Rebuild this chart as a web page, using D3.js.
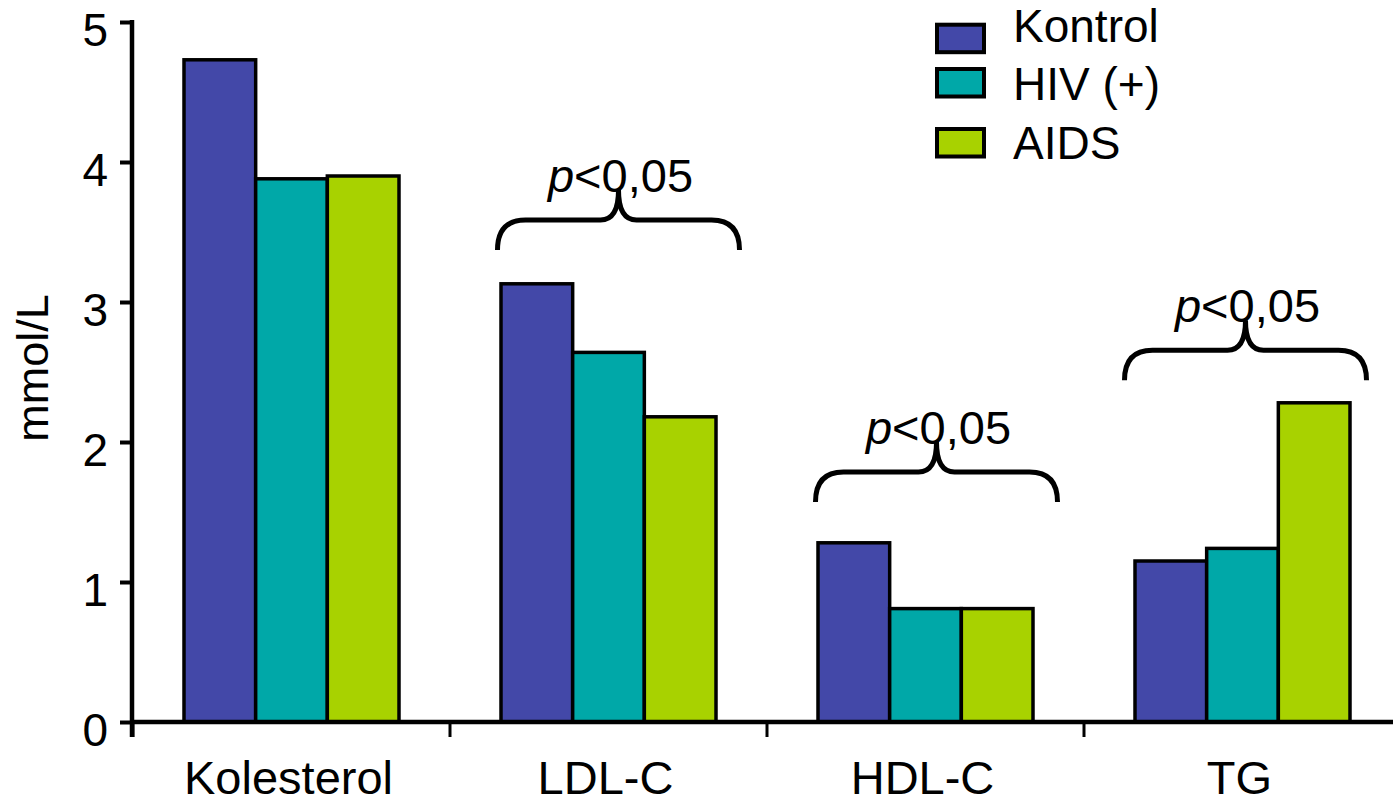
<!DOCTYPE html>
<html>
<head>
<meta charset="utf-8">
<script src="https://cdn.jsdelivr.net/npm/d3@7"></script>
<style>
  html, body { margin: 0; padding: 0; background: #fff; }
  svg { display: block; font-family: "Liberation Sans", Arial, Helvetica, sans-serif; }
</style>
</head>
<body>
<svg id="chart" width="1393" height="803"></svg>
<script>
// ---- data ----
const categories = ["Kolesterol", "LDL-C", "HDL-C", "TG"];
const seriesNames = ["Kontrol", "HIV (+)", "AIDS"];
const kontrol = [4.73, 3.13, 1.28, 1.15];
const hivPlus = [3.88, 2.64, 0.81, 1.24];
const aids    = [3.90, 2.18, 0.81, 2.28];
const seriesColors = ["#4348A8", "#00A8A8", "#A8D200"];
const yTicks = [0, 1, 2, 3, 4, 5];
const yLabel = "mmol/L";
const annotCategories = ["LDL-C", "HDL-C", "TG"];
const annotTipValues = [3.80, 2.00, 2.87];
const annotText = ["p", "<0,05"];

// ---- layout ----
const svg = d3.select("#chart");
const y = d3.scaleLinear().domain([0, 5]).range([722, 22]);
const x = d3.scaleBand().domain(categories).range([133, 133 + 4 * 317]).padding(0);
const xi = d3.scaleBand().domain(seriesNames).range([51, 266]).padding(0);
const seriesValues = [kontrol, hivPlus, aids];

// bars
const g = svg.append("g");
categories.forEach((c, ci) => {
  seriesNames.forEach((s, si) => {
    const v = seriesValues[si][ci];
    g.append("rect")
      .attr("x", x(c) + xi(s))
      .attr("y", y(v))
      .attr("width", xi.bandwidth())
      .attr("height", y(0) - y(v))
      .attr("fill", seriesColors[si])
      .attr("stroke", "#000")
      .attr("stroke-width", 3.5);
  });
});

// y axis
const yAxis = d3.axisLeft(y).tickValues(yTicks).tickSize(12).tickSizeOuter(0).tickFormat(d3.format("d"));
const ya = svg.append("g").attr("transform", "translate(132,0)").call(yAxis);
ya.select(".domain").remove();
ya.selectAll(".tick line").attr("stroke", "#000").attr("stroke-width", 4);
ya.selectAll(".tick text")
  .attr("x", -24)
  .attr("dy", "0.52em")
  .attr("font-size", 46)
  .attr("fill", "#000")
  .style("font-family", "Liberation Sans, Arial, sans-serif");
ya.append("line")
  .attr("x1", 0).attr("x2", 0)
  .attr("y1", y(5) - 2).attr("y2", 737)
  .attr("stroke", "#000").attr("stroke-width", 4.5);

// x axis
svg.append("line")
  .attr("x1", 130).attr("x2", 1393)
  .attr("y1", y(0)).attr("y2", y(0))
  .attr("stroke", "#000").attr("stroke-width", 4.5);
svg.selectAll(".xtick").data(categories).enter().append("line")
  .attr("x1", d => x(d)).attr("x2", d => x(d))
  .attr("y1", y(0)).attr("y2", 737)
  .attr("stroke", "#000").attr("stroke-width", 3);
svg.selectAll(".xlab").data(categories).enter().append("text")
  .attr("x", d => x(d) + x.bandwidth() / 2 - 3)
  .attr("y", 794)
  .attr("text-anchor", "middle")
  .attr("font-size", 47)
  .text(d => d);

// y label
svg.append("text")
  .attr("transform", "translate(48,368) rotate(-90)")
  .attr("text-anchor", "middle")
  .attr("font-size", 45)
  .text(yLabel);

// braces + p-values
const braceShift = { "LDL-C": 10, "HDL-C": 11, "TG": 3 };
annotCategories.forEach((c, i) => {
  const xc = x(c) + x.bandwidth() / 2 + braceShift[c];
  const half = 121;
  const yT = y(annotTipValues[i]);
  const yA = yT + 30, yE = yT + 60;
  const R = 28, r = 18;
  const x0 = xc - half, x1 = xc + half;
  const p = `M${x0},${yE} Q${x0},${yA} ${x0 + R},${yA} L${xc - r},${yA} Q${xc},${yA} ${xc},${yT} Q${xc},${yA} ${xc + r},${yA} L${x1 - R},${yA} Q${x1},${yA} ${x1},${yE}`;
  svg.append("path").attr("d", p).attr("fill", "none").attr("stroke", "#000").attr("stroke-width", 5);
  const t = svg.append("text")
    .attr("x", xc + 2)
    .attr("y", yT + 2)
    .attr("text-anchor", "middle")
    .attr("font-size", 47);
  t.append("tspan").attr("font-style", "italic").text(annotText[0]);
  t.append("tspan").text(annotText[1]);
});

// legend
const legRectY = [24.7, 69, 129];
const legTextY = [42, 100, 159];
seriesNames.forEach((s, i) => {
  svg.append("rect")
    .attr("x", 937).attr("y", legRectY[i])
    .attr("width", 47).attr("height", 27.5)
    .attr("fill", seriesColors[i])
    .attr("stroke", "#000").attr("stroke-width", 4);
  svg.append("text")
    .attr("x", 1013).attr("y", legTextY[i])
    .attr("font-size", 46)
    .text(s);
});
</script>
</body>
</html>
